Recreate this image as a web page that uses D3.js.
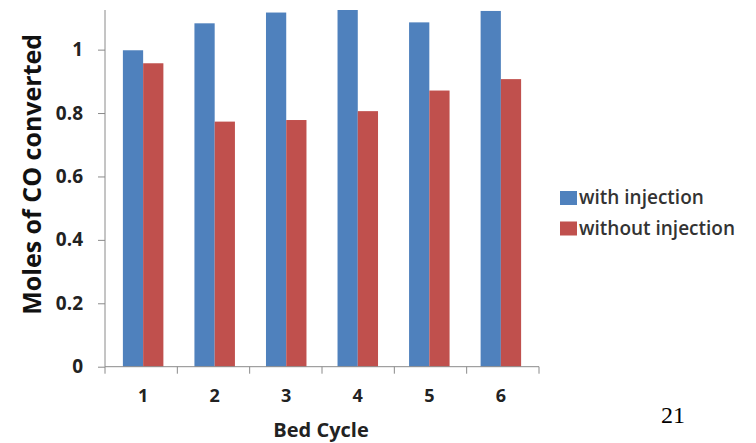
<!DOCTYPE html>
<html>
<head>
<meta charset="utf-8">
<script src="https://cdn.jsdelivr.net/npm/d3@7"></script>
<style>
  html, body { margin: 0; padding: 0; background: #fff; }
  svg { display: block; }
</style>
</head>
<body>
<svg id="chart" width="756" height="443"></svg>
<script>
// Bed cycles and moles of CO converted per cycle
const cycles = ["1", "2", "3", "4", "5", "6"];
const withInjection = [0.998, 1.083, 1.117, 1.125, 1.086, 1.122];
const withoutInjection = [0.957, 0.773, 0.778, 0.806, 0.871, 0.907];
const seriesNames = ["with injection", "without injection"];
const seriesColors = ["#4F81BD", "#C0504D"];
const yTicks = [0, 0.2, 0.4, 0.6, 0.8, 1];
const yMax = 1.125;

const svg = d3.select("#chart");
const plot = { left: 105, right: 539, top: 10, bottom: 366.7 };

const x = d3.scaleBand().domain(cycles)
  .range([plot.left, plot.right])
  .paddingInner(0.434).paddingOuter(0.25);
const xSeries = d3.scaleBand().domain(seriesNames).range([0, x.bandwidth()]);
const y = d3.scaleLinear().domain([0, yMax]).range([plot.bottom, plot.top]);

const rows = cycles.map((c, i) => ({ cycle: c, values: [withInjection[i], withoutInjection[i]] }));

// bars
const groups = svg.append("g").selectAll("g").data(rows).join("g")
  .attr("transform", d => `translate(${x(d.cycle)},0)`);
groups.selectAll("rect")
  .data(d => d.values.map((v, k) => ({ name: seriesNames[k], value: v, color: seriesColors[k] })))
  .join("rect")
  .attr("x", d => xSeries(d.name))
  .attr("width", xSeries.bandwidth())
  .attr("y", d => y(d.value))
  .attr("height", d => plot.bottom - y(d.value))
  .attr("fill", d => d.color);

const axisColor = "#8a8a8a";
const labelFont = "'Open Sans', 'DejaVu Sans', sans-serif";

// y axis
const yAxis = svg.append("g").attr("transform", `translate(${plot.left},0)`)
  .call(d3.axisLeft(y).tickValues(yTicks).tickFormat(d3.format("~g")).tickSize(7).tickPadding(15));
yAxis.select(".domain").attr("stroke", axisColor).attr("d", `M0,${plot.top}V${plot.bottom}`);
yAxis.selectAll(".tick line").attr("stroke", axisColor);
yAxis.selectAll(".tick text")
  .attr("fill", "#222").style("font-family", labelFont)
  .style("font-size", "19px").style("font-weight", "bold");

// x axis with tick marks between categories
const xAxis = svg.append("g").attr("transform", `translate(0,${plot.bottom})`);
xAxis.append("line").attr("x1", plot.left).attr("x2", plot.right)
  .attr("stroke", axisColor);
xAxis.selectAll("line.sep").data(d3.range(cycles.length + 1)).join("line")
  .attr("class", "sep")
  .attr("x1", i => plot.left + i * (plot.right - plot.left) / cycles.length)
  .attr("x2", i => plot.left + i * (plot.right - plot.left) / cycles.length)
  .attr("y1", 0).attr("y2", 7).attr("stroke", axisColor);
xAxis.selectAll("text").data(cycles).join("text")
  .attr("x", d => x(d) + x.bandwidth() / 2)
  .attr("y", 35)
  .attr("text-anchor", "middle")
  .attr("fill", "#222").style("font-family", labelFont)
  .style("font-size", "18px").style("font-weight", "bold")
  .text(d => d);

// axis titles
svg.append("text")
  .attr("transform", `translate(41,${(plot.top + plot.bottom) / 2 - 14}) rotate(-90)`)
  .attr("text-anchor", "middle")
  .attr("fill", "#111").style("font-family", labelFont)
  .style("font-size", "25px").style("font-weight", "bold")
  .text("Moles of CO converted");

svg.append("text")
  .attr("x", 321).attr("y", 437)
  .attr("text-anchor", "middle")
  .attr("fill", "#222").style("font-family", labelFont)
  .style("font-size", "20px").style("font-weight", "bold")
  .text("Bed Cycle");

// legend
const legend = svg.append("g").attr("transform", "translate(560,191)");
const items = legend.selectAll("g").data(seriesNames).join("g")
  .attr("transform", (d, i) => `translate(0,${i * 30.5})`);
items.append("rect").attr("width", 17).attr("height", 14)
  .attr("fill", (d, i) => seriesColors[i]);
items.append("text").attr("x", 19).attr("y", 13)
  .attr("fill", "#333").style("font-family", labelFont)
  .style("font-size", "19px").style("font-weight", "600")
  .text(d => d);

// page number
svg.append("text")
  .attr("x", 673).attr("y", 423)
  .attr("text-anchor", "middle")
  .attr("fill", "#000").style("font-family", "'Liberation Serif', 'DejaVu Serif', serif")
  .style("font-size", "24px")
  .text("21");
</script>
</body>
</html>
